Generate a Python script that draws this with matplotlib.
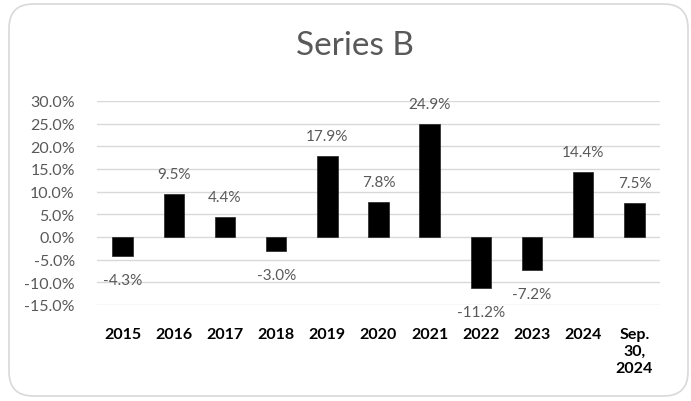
import matplotlib
matplotlib.use("Agg")
import matplotlib.pyplot as plt
from matplotlib.patches import FancyBboxPatch
from matplotlib.ticker import FuncFormatter

categories = ["2015", "2016", "2017", "2018", "2019", "2020", "2021", "2022", "2023", "2024", "Sep.\n30,\n2024"]
values = [-4.3, 9.5, 4.4, -3.0, 17.9, 7.8, 24.9, -11.2, -7.2, 14.4, 7.5]
title = "Series B"

plt.rcParams['font.family'] = ['Lato', 'DejaVu Sans']
grey = "#595959"

fig = plt.figure(figsize=(6.91, 4.02), dpi=100)
fig.patch.set_facecolor("white")
frame = FancyBboxPatch((9/691, 5/402), 679/691, 392/402,
                       boxstyle="round,pad=0,rounding_size=0.035",
                       transform=fig.transFigure, facecolor="white",
                       edgecolor="#d9d9d9", linewidth=1.2, mutation_aspect=691/402,
                       zorder=-10)
fig.patches.append(frame)

ax = fig.add_axes([97/691, 1-306/402, 563/691, 204/402])
ax.set_facecolor("none")
ax.set_zorder(1)
x = list(range(len(categories)))
ax.bar(x, values, width=0.4, color="black", edgecolor="#222222", linewidth=0.5, zorder=3)
ax.set_xlim(-0.5, len(categories)-0.5)
ax.set_ylim(-15, 30)
ax.set_yticks([-15, -10, -5, 0, 5, 10, 15, 20, 25, 30])
ax.yaxis.set_major_formatter(FuncFormatter(lambda v, p: f"{v:.1f}%"))
ax.grid(axis="y", color="#d9d9d9", linewidth=1.0, zorder=0)
ax.set_xticks(x)
ax.set_xticklabels(categories, fontsize=11.5, fontweight="bold", color="black", linespacing=1.25)
ax.tick_params(axis="x", length=0, pad=16)
ax.tick_params(axis="y", length=0, pad=16, labelsize=11.5, labelcolor=grey)
for s in ax.spines.values():
    s.set_visible(False)

for xi, v in zip(x, values):
    if v >= 0:
        ax.annotate(f"{v:.1f}%", (xi, v), xytext=(0, 20), textcoords="offset pixels",
                    ha="center", va="center", fontsize=11, color=grey)
    else:
        ax.annotate(f"{v:.1f}%", (xi, v), xytext=(0, -24), textcoords="offset pixels",
                    ha="center", va="center", fontsize=11, color=grey)

fig.text(355/691, 1-46/402, title, ha="center", va="center", fontsize=24, color=grey)

fig.savefig("out.png", dpi=100)
